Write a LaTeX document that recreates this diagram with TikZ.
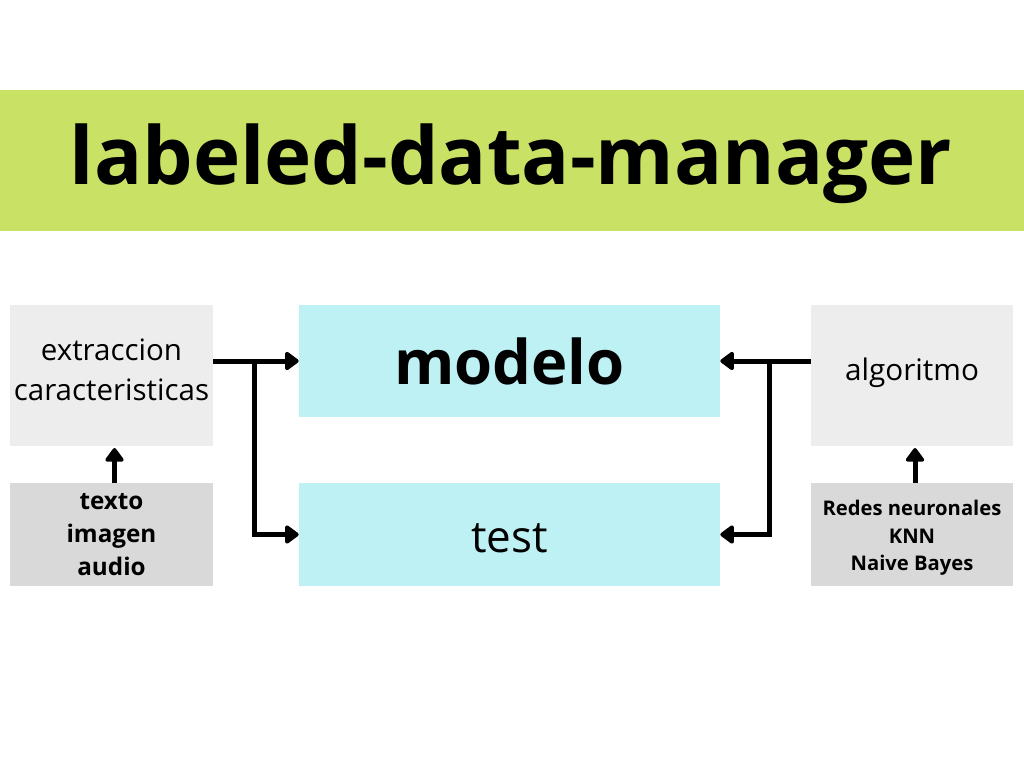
\documentclass[tikz,border=0pt]{standalone}
\usepackage{fontspec}
\setmainfont{Open Sans}
\usetikzlibrary{arrows.meta,calc}

\definecolor{bandgreen}{HTML}{C9E265}
\definecolor{boxcyan}{HTML}{BDF1F4}
\definecolor{boxlight}{HTML}{EDEDED}
\definecolor{boxgrey}{HTML}{D9D9D9}

\tikzset{
    panel/.style={inner sep=0pt, align=center, text=black},
    conn/.style={line width=0.1cm, -{Triangle[length=0.3cm,width=0.42cm,round]}},
}

\begin{document}
\begin{tikzpicture}[x=0.02cm, y=-0.02cm]

        \useasboundingbox (0,0) rectangle (1024,768);
        \fill [white] (0,0) rectangle (1024,768);

        % title band
        \fill [bandgreen] (0,90) rectangle (1024,231);
        \node [panel, font=\fontsize{45.5}{55}\selectfont\bfseries] (title) at (511,164) {labeled-data-manager};

        % left column
        \node [panel, fill=boxlight, minimum width=4.06cm, minimum height=2.82cm,
            label={[panel, yshift=0.11cm, font=\fontsize{16.8}{23}\selectfont]center:extraccion\\caracteristicas}]
            (extr) at (111.5,375.5) {};
        \node [panel, fill=boxgrey, minimum width=4.06cm, minimum height=2.06cm,
            font=\fontsize{13.8}{18.8}\selectfont\bfseries] (datos) at (111.5,534.5) {texto\\imagen\\audio};

        % centre column
        \node [panel, fill=boxcyan, minimum width=8.42cm, minimum height=2.24cm,
            font=\fontsize{35}{42}\selectfont\bfseries] (modelo) at (509.5,361) {modelo};
        \node [panel, fill=boxcyan, minimum width=8.42cm, minimum height=2.06cm,
            label={[panel, yshift=-0.08cm, font=\fontsize{25}{30}\selectfont]center:test}]
            (test) at (509.5,534.5) {};

        % right column
        \node [panel, fill=boxlight, minimum width=4.04cm, minimum height=2.82cm,
            label={[panel, yshift=0.06cm, font=\fontsize{16.9}{23}\selectfont]center:algoritmo}]
            (algo) at (912,375.5) {};
        \node [panel, fill=boxgrey, minimum width=4.04cm, minimum height=2.06cm,
            label={[panel, yshift=-0.07cm, font=\fontsize{11.5}{15.7}\selectfont\bfseries]center:Redes neuronales\\KNN\\Naive Bayes}]
            (tipos) at (912,534.5) {};

        % connectors
        \coordinate (lsplit) at ($(extr.east |- modelo.west)!0.48!(modelo.west)$);
        \coordinate (rsplit) at ($(algo.west |- modelo.east)!0.46!(modelo.east)$);
        \draw [conn] (extr.east |- modelo.west) -- (modelo.west);
        \draw [conn] (lsplit) |- (test.west);
        \draw [conn] (algo.west |- modelo.east) -- (modelo.east);
        \draw [conn] (rsplit) |- (test.east);
        \draw [conn, shorten >=1pt] ([xshift=0.06cm]datos.north) -- ([xshift=0.06cm]extr.south);
        \draw [conn, shorten >=1pt] ([xshift=0.06cm]tipos.north) -- ([xshift=0.06cm]algo.south);

    \end{tikzpicture}
\end{document}
